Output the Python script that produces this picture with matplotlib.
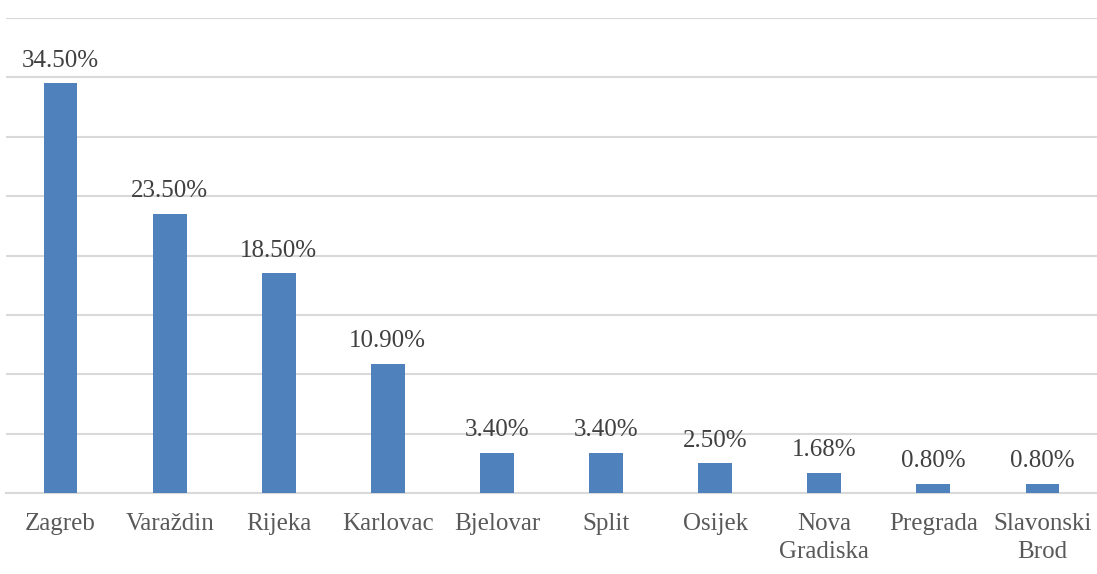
import matplotlib.pyplot as plt

gradovi = ["Zagreb", "Varaždin", "Rijeka", "Karlovac", "Bjelovar", "Split",
           "Osijek", "Nova\nGradiska", "Pregrada", "Slavonski\nBrod"]
postotci = [34.50, 23.50, 18.50, 10.90, 3.40, 3.40, 2.50, 1.68, 0.80, 0.80]
oznake = ["34.50%", "23.50%", "18.50%", "10.90%", "3.40%", "3.40%",
          "2.50%", "1.68%", "0.80%", "0.80%"]

plt.rcParams['font.family'] = ['Liberation Serif', 'DejaVu Serif']

fig = plt.figure(figsize=(10.97, 5.74), dpi=100)
ax = fig.add_axes([6 / 1097, 81 / 574, 1091 / 1097, 475 / 574])

x = range(len(gradovi))
stupci = ax.bar(x, postotci, width=0.31, color="#4F81BD", zorder=3)

for s, t in zip(stupci, oznake):
    ax.annotate(t, (s.get_x() + s.get_width() / 2, s.get_height()),
                xytext=(0, 8.5), textcoords="offset points",
                ha="center", va="bottom", fontsize=18, color="#404040")

ax.set_xlim(-0.5, len(gradovi) - 0.5)
ax.set_ylim(0, 40)
ax.set_yticks(range(0, 41, 5))
ax.yaxis.grid(True, color="#D9D9D9", linewidth=1.5, zorder=0)
ax.tick_params(axis="y", left=False, labelleft=False)
ax.set_xticks(list(x))
ax.set_xticklabels(gradovi, fontsize=18, color="#595959", linespacing=1.35)
ax.tick_params(axis="x", length=0, pad=14.5)
for side in ["top", "right", "left"]:
    ax.spines[side].set_visible(False)
ax.spines["bottom"].set_color("#D9D9D9")
ax.spines["bottom"].set_linewidth(1.5)

fig.savefig("out.png", dpi=100)
